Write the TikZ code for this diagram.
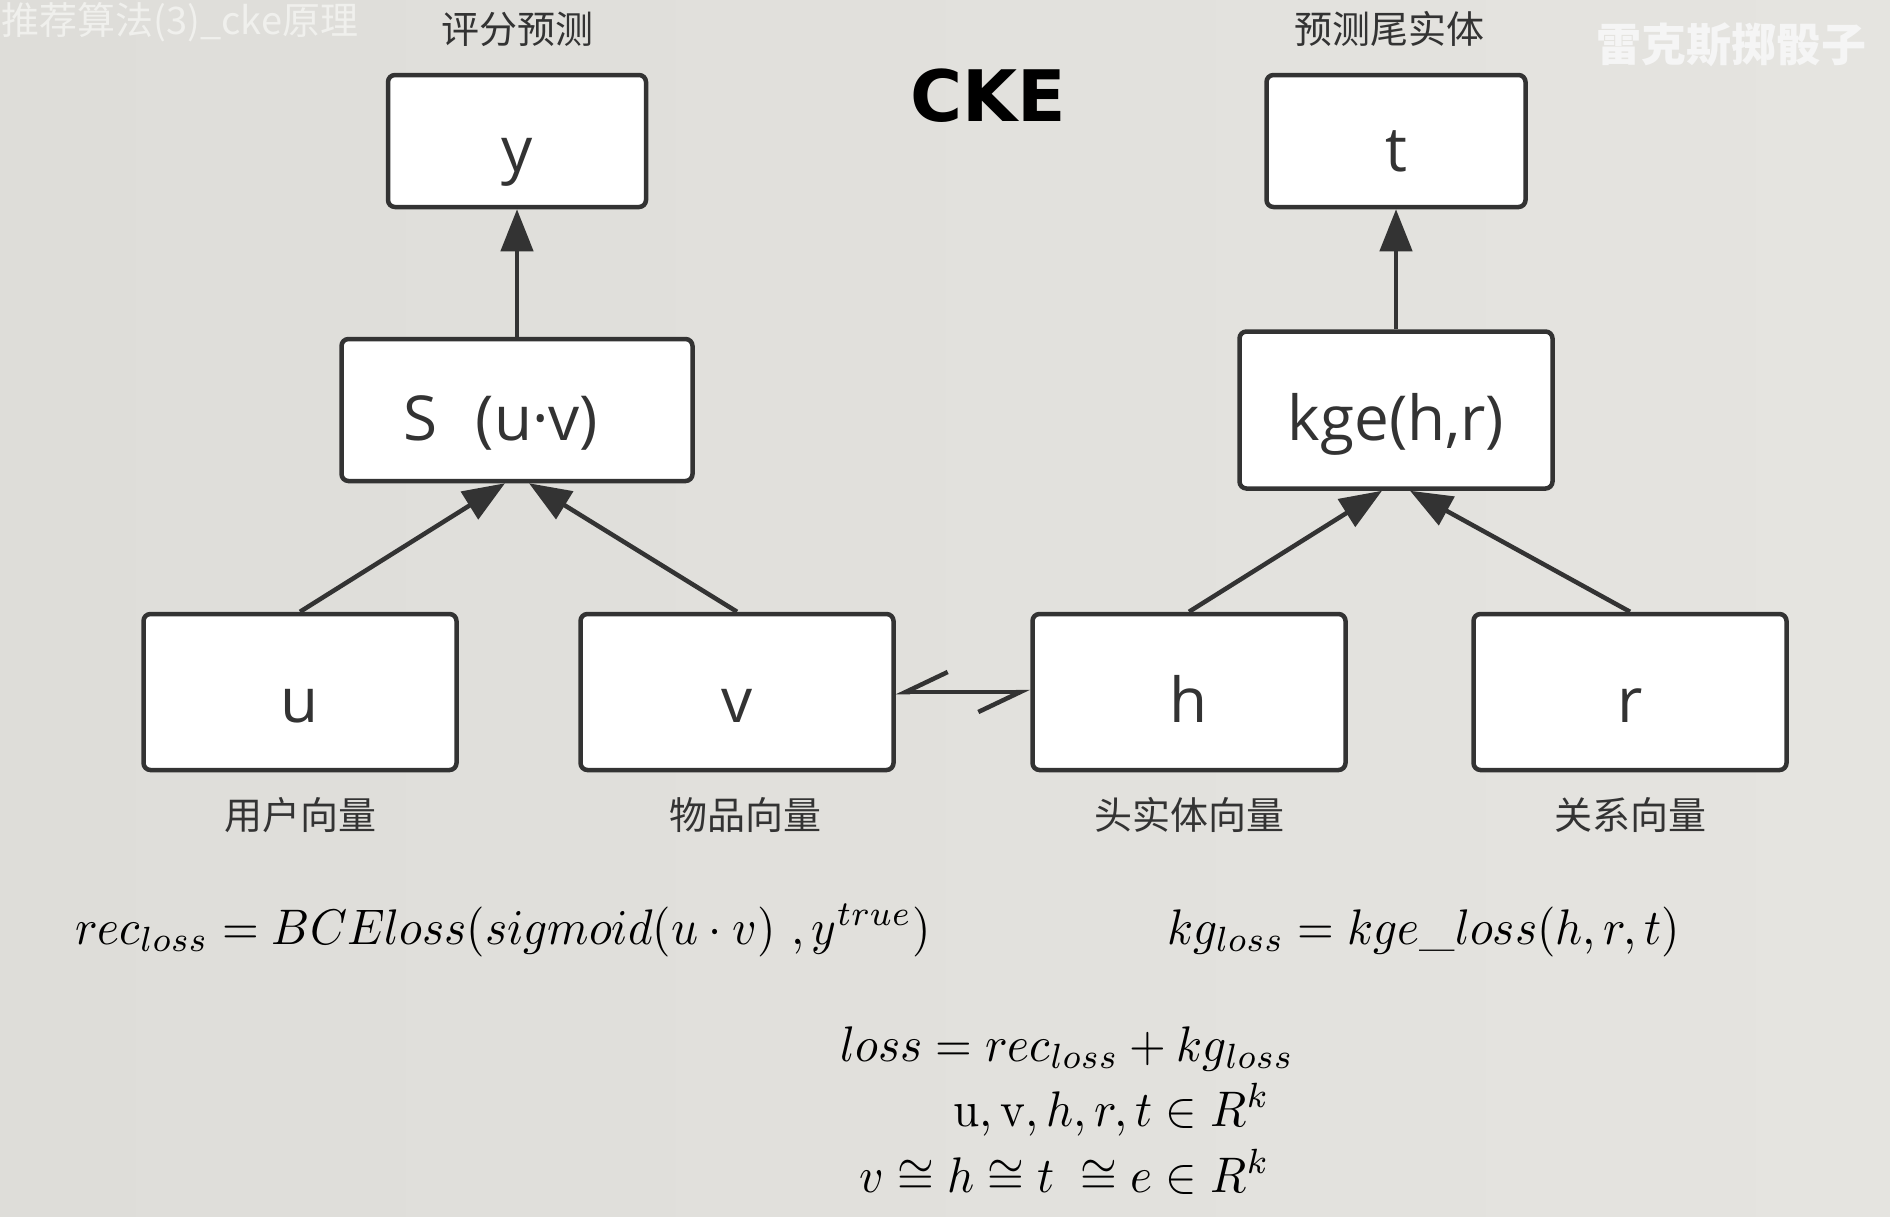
\documentclass[tikz,border=0pt]{standalone}
\usepackage{amsmath, amssymb, graphicx, xcolor, tikz}
\usepackage{fontspec}
\newfontfamily\cjk{Noto Sans CJK SC}
\newfontfamily\boxfont{Open Sans}
\newfontfamily\titlefont{DejaVu Sans}
\usetikzlibrary{arrows.meta,positioning}
\definecolor{ink}{RGB}{51,51,51}
\definecolor{paperleft}{RGB}{222,221,217}
\definecolor{papermid}{RGB}{238,237,233}
\definecolor{paperright}{RGB}{229,228,224}
\definecolor{mark}{RGB}{240,240,237}
\newcommand{\bigeq}[1]{\scalebox{4.72}[5]{$#1$}}

\begin{document}
\begin{tikzpicture}[x=1pt, y=1pt, node distance=269pt,
		box/.style={draw=ink, line width=4.5pt, rounded corners=7pt, fill=white, minimum width=313pt, minimum height=156pt, inner sep=0pt, text height=60pt, text depth=0pt, text=ink, font=\boxfont\fontsize{62}{70}\selectfont},
		lab/.style={text=ink, font=\cjk\fontsize{38}{44}\selectfont},
		arr/.style={draw=ink, line width=4.5pt, -{Triangle[length=42pt,width=32pt]}},
		eq/.style={inner sep=0pt}]
	\useasboundingbox (0,0) rectangle (1890,-1216);
	\shade[left color=paperleft, middle color=papermid, right color=paperright] (0,0) rectangle (1890,-1216);
	% watermarks
	\node[anchor=west, text=mark, font=\cjk\fontsize{38}{42}\selectfont] (wmleft) at (-2,-22) {推荐算法(3)\_cke原理};
	\node[text=white!92!gray, font=\cjk\bfseries\fontsize{45}{50}\selectfont] (wmright) at (1731,-45) {雷克斯掷骰子};
	\node[text=black, font=\titlefont\bfseries\fontsize{71}{78}\selectfont] (title) at (988,-96) {CKE};
	% boxes
	\node[box, minimum width=351pt, minimum height=142pt] (S) at (517,-410) {S\hspace{38pt}(u·v)\hspace*{32pt}};
	\node[box, minimum width=258pt, minimum height=132pt] (y) [above of=S] {y};
	\node[box, minimum height=157pt] (kge) [right of=S, xshift=610pt] {kge(h,r)};
	\node[box, minimum width=259pt, minimum height=132pt] (t) [above of=kge] {t};
	\node[box] (u) [below of=S, xshift=-217pt, yshift=-13pt] {u};
	\node[box] (v) [below of=S, xshift=220pt, yshift=-13pt] {v};
	\node[box] (h) [below of=kge, xshift=-207pt, yshift=-13pt] {h};
	\node[box] (r) [below of=kge, xshift=234pt, yshift=-13pt] {r};
	% labels
	\node[lab, node distance=112pt] (ylab) [above of=y] {评分预测};
	\node[lab, node distance=112pt] (tlab) [above of=t, xshift=-7pt] {预测尾实体};
	\node[lab, node distance=123pt] (ulab) [below of=u] {用户向量};
	\node[lab, node distance=123pt] (vlab) [below of=v, xshift=8pt] {物品向量};
	\node[lab, node distance=123pt] (hlab) [below of=h] {头实体向量};
	\node[lab, node distance=123pt] (rlab) [below of=r] {关系向量};
	% arrows
	\draw[arr] (S) -- (y);
	\draw[arr] (kge) -- (t);
	\draw[arr] (u.north) -- ([xshift=-12pt]S.south);
	\draw[arr] (v.north) -- ([xshift=12pt]S.south);
	\draw[arr] (h.north) -- ([xshift=-14pt]kge.south);
	\draw[arr] (r.north) -- ([xshift=14pt]kge.south);
	\draw[draw=ink, line width=4.5pt, {Straight Barb[harpoon,swap,length=42pt,width=40pt]}-{Straight Barb[harpoon,swap,length=42pt,width=40pt]}] (v) -- (h);
	% formulas
	\node[eq, anchor=base west] (rec) at (75,-944) {\bigeq{rec_{loss} = BCEloss(sigmoid(u\cdot v)\ ,y^{true})}};
	\node[eq, anchor=base west] (kg) at (1167,-944) {\bigeq{kg_{loss} = kge\_loss(h,r,t)}};
	\node[eq, anchor=base west] (total) at (840,-1061) {\bigeq{loss = rec_{loss} + kg_{loss}}};
	\node[eq, anchor=base east] (dims) at (1270,-1126) {\bigeq{\mathrm{u},\mathrm{v},h,r,t \in R^k}};
	\node[eq, anchor=base east] (same) at (1270,-1192) {\bigeq{v \cong h \cong t\;\cong e \in R^k}};
\end{tikzpicture}
\end{document}
